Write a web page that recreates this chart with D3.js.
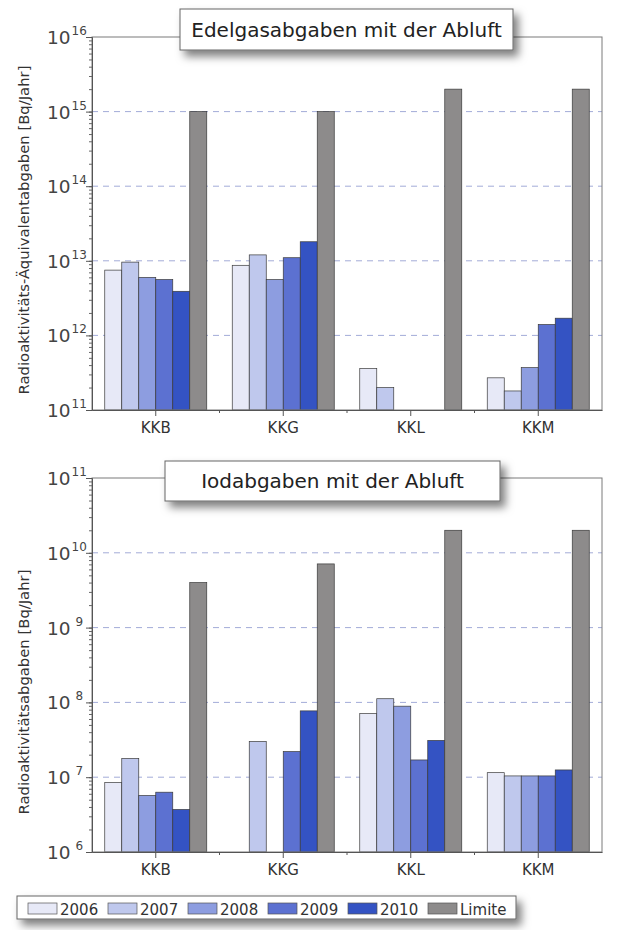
<!DOCTYPE html>
<html>
<head>
<meta charset="utf-8">
<script src="https://cdn.jsdelivr.net/npm/d3@7"></script>
<style>
  body { margin: 0; background: #fff; }
  svg { display: block; font-family: 'DejaVu Sans', Verdana, sans-serif; }
</style>
</head>
<body>
<div id="chart"></div>
<script>
const categories = ['KKB', 'KKG', 'KKL', 'KKM'];
const years = ['2006', '2007', '2008', '2009', '2010', 'Limite'];
const seriesColors = ['#e7e9f7', '#bfc8ed', '#8d9de0', '#5c71d1', '#3453c3', '#8d8b8b'];

// Edelgasabgaben (Bq/Jahr), one array per series over the categories; null = no bar
const edelgas2006 = [7.5e12, 8.7e12, 3.6e11, 2.7e11];
const edelgas2007 = [9.6e12, 1.2e13, 2.0e11, 1.8e11];
const edelgas2008 = [6.0e12, 5.6e12, null, 3.7e11];
const edelgas2009 = [5.6e12, 1.1e13, null, 1.4e12];
const edelgas2010 = [3.9e12, 1.8e13, null, 1.7e12];
const edelgasLimite = [1e15, 1e15, 2e15, 2e15];

// Iodabgaben (Bq/Jahr)
const iod2006 = [8.5e6, null, 7.1e7, 1.15e7];
const iod2007 = [1.78e7, 3.0e7, 1.12e8, 1.04e7];
const iod2008 = [5.7e6, null, 8.9e7, 1.04e7];
const iod2009 = [6.3e6, 2.2e7, 1.7e7, 1.04e7];
const iod2010 = [3.7e6, 7.7e7, 3.1e7, 1.25e7];
const iodLimite = [4.0e9, 7.1e9, 2.0e10, 2.0e10];

const edelgasSeries = [edelgas2006, edelgas2007, edelgas2008, edelgas2009, edelgas2010, edelgasLimite];
const iodSeries = [iod2006, iod2007, iod2008, iod2009, iod2010, iodLimite];

const width = 621, height = 930;

const svg = d3.select('#chart').append('svg')
  .attr('width', width)
  .attr('height', height);

const defs = svg.append('defs');
defs.append('filter')
  .attr('id', 'shadow')
  .attr('x', '-10%').attr('y', '-30%')
  .attr('width', '130%').attr('height', '190%')
  .append('feDropShadow')
    .attr('dx', 5).attr('dy', 6)
    .attr('stdDeviation', 4)
    .attr('flood-color', '#000')
    .attr('flood-opacity', 0.5);

function toRows(series) {
  let rows = [];
  categories.forEach((cat, ci) => {
    years.forEach((yr, si) => {
      if (series[si][ci] != null) {
        rows.push({ cat: cat, year: yr, index: si, value: series[si][ci] });
      }
    });
  });
  return rows;
}

function drawPanel(opts) {
  let g = svg.append('g').attr('class', 'panel');

  let x = d3.scaleBand()
    .domain(categories)
    .range([opts.left, opts.right])
    .paddingInner(0.2)
    .paddingOuter(0.1);

  let xs = d3.scaleBand()
    .domain(years)
    .range([0, x.bandwidth()]);

  let y = d3.scaleLog()
    .domain(opts.domain)
    .range([opts.bottom, opts.top]);

  let e0 = Math.round(Math.log10(opts.domain[0]));
  let e1 = Math.round(Math.log10(opts.domain[1]));
  let decades = d3.range(e0, e1 + 1).map(e => Math.pow(10, e));

  // dashed gridlines at decades
  g.append('g').attr('class', 'grid')
    .selectAll('line')
    .data(decades.slice(1, -1))
    .join('line')
      .attr('x1', opts.left)
      .attr('x2', opts.right)
      .attr('y1', d => y(d))
      .attr('y2', d => y(d))
      .attr('stroke', '#a3acd8')
      .attr('stroke-width', 1)
      .attr('stroke-dasharray', '6,5');

  // bars
  g.append('g').attr('class', 'bars')
    .selectAll('rect')
    .data(toRows(opts.series))
    .join('rect')
      .attr('x', d => x(d.cat) + xs(d.year))
      .attr('y', d => y(d.value))
      .attr('width', xs.bandwidth())
      .attr('height', d => opts.bottom - y(d.value))
      .attr('fill', d => seriesColors[d.index])
      .attr('stroke', '#3a3a3a')
      .attr('stroke-width', 0.7);

  // frame
  g.append('rect')
    .attr('x', opts.left)
    .attr('y', opts.top)
    .attr('width', opts.right - opts.left)
    .attr('height', opts.bottom - opts.top)
    .attr('fill', 'none')
    .attr('stroke', '#7a7a7a')
    .attr('stroke-width', 1);

  // y axis: minor ticks
  g.append('g')
    .attr('transform', 'translate(' + opts.left + ',0)')
    .call(d3.axisLeft(y).tickValues(y.ticks()).tickSize(3).tickFormat(''))
    .call(a => a.select('.domain').remove())
    .call(a => a.selectAll('line').attr('stroke', '#666'));

  // y axis: major ticks + labels
  g.append('g')
    .attr('transform', 'translate(' + opts.left + ',0)')
    .call(d3.axisLeft(y).tickValues(decades).tickSize(6).tickFormat(''))
    .call(a => a.select('.domain').attr('stroke', '#555'))
    .call(a => a.selectAll('line').attr('stroke', '#555'));

  let labels = g.append('g').attr('class', 'ylabels')
    .selectAll('text')
    .data(decades)
    .join('text')
      .attr('x', 47)
      .attr('y', d => y(d) + 7)
      .attr('fill', '#444')
      .style('font-size', '18.5px');
  labels.append('tspan').text('10');
  labels.append('tspan')
    .attr('dx', d => Math.log10(d) < 10 ? 5 : 1)
    .attr('dy', -9)
    .style('font-size', '12px')
    .text(d => Math.round(Math.log10(d)));

  // x axis
  g.append('g')
    .attr('transform', 'translate(0,' + opts.bottom + ')')
    .call(d3.axisBottom(x).tickSize(6).tickSizeOuter(0).tickFormat(''))
    .call(a => a.select('.domain').attr('stroke', '#555'))
    .call(a => a.selectAll('line').attr('stroke', '#555'));

  // boundary ticks between categories
  g.append('g')
    .selectAll('line')
    .data(categories.slice(1))
    .join('line')
      .attr('x1', d => x(d) - x.step() * x.paddingInner() / 2)
      .attr('x2', d => x(d) - x.step() * x.paddingInner() / 2)
      .attr('y1', opts.bottom)
      .attr('y2', opts.bottom + 3)
      .attr('stroke', '#555');

  g.append('g')
    .selectAll('text')
    .data(categories)
    .join('text')
      .attr('x', d => x(d) + x.bandwidth() / 2)
      .attr('y', opts.bottom + 23)
      .attr('text-anchor', 'middle')
      .attr('fill', '#333')
      .style('font-size', '15px')
      .text(d => d);

  // y title
  g.append('text')
    .attr('transform', 'translate(29,' + opts.yTitleCenter + ') rotate(-90)')
    .attr('text-anchor', 'middle')
    .attr('fill', '#333')
    .style('font-size', '14.8px')
    .text(opts.yTitle);

  // title box
  let tb = opts.titleBox;
  g.append('rect')
    .attr('x', tb.x).attr('y', tb.y)
    .attr('width', tb.w).attr('height', tb.h)
    .attr('fill', '#fff')
    .attr('stroke', '#666')
    .attr('stroke-width', 1)
    .attr('filter', 'url(#shadow)');
  g.append('text')
    .attr('x', tb.x + tb.w / 2)
    .attr('y', tb.y + tb.h / 2 + 7)
    .attr('text-anchor', 'middle')
    .attr('fill', '#222')
    .style('font-size', '20px')
    .text(opts.title);
}

drawPanel({
  series: edelgasSeries,
  domain: [1e11, 1e16],
  left: 92, right: 602, top: 37, bottom: 410,
  yTitle: 'Radioaktivitäts-Äquivalentabgaben [Bq/Jahr]',
  yTitleCenter: 230,
  title: 'Edelgasabgaben mit der Abluft',
  titleBox: { x: 180, y: 9, w: 333, h: 41 }
});

drawPanel({
  series: iodSeries,
  domain: [1e6, 1e11],
  left: 92, right: 602, top: 478, bottom: 852,
  yTitle: 'Radioaktivitätsabgaben [Bq/Jahr]',
  yTitleCenter: 692,
  title: 'Iodabgaben mit der Abluft',
  titleBox: { x: 165, y: 461, w: 335, h: 40 }
});

// legend
let legend = svg.append('g').attr('class', 'legend');
legend.append('rect')
  .attr('x', 17).attr('y', 896)
  .attr('width', 499).attr('height', 23)
  .attr('fill', '#fff')
  .attr('stroke', '#666')
  .attr('filter', 'url(#shadow)');

let lx = d3.scaleBand().domain(years).range([28, 508]);
let item = legend.selectAll('g.item')
  .data(years)
  .join('g')
    .attr('class', 'item')
    .attr('transform', d => 'translate(' + lx(d) + ',903)');
item.append('rect')
  .attr('width', 29).attr('height', 11)
  .attr('fill', (d, i) => seriesColors[i])
  .attr('stroke', '#555')
  .attr('stroke-width', 0.7);
item.append('text')
  .attr('x', 32).attr('y', 11.5)
  .attr('fill', '#333')
  .style('font-size', '15px')
  .text(d => d);
</script>
</body>
</html>
